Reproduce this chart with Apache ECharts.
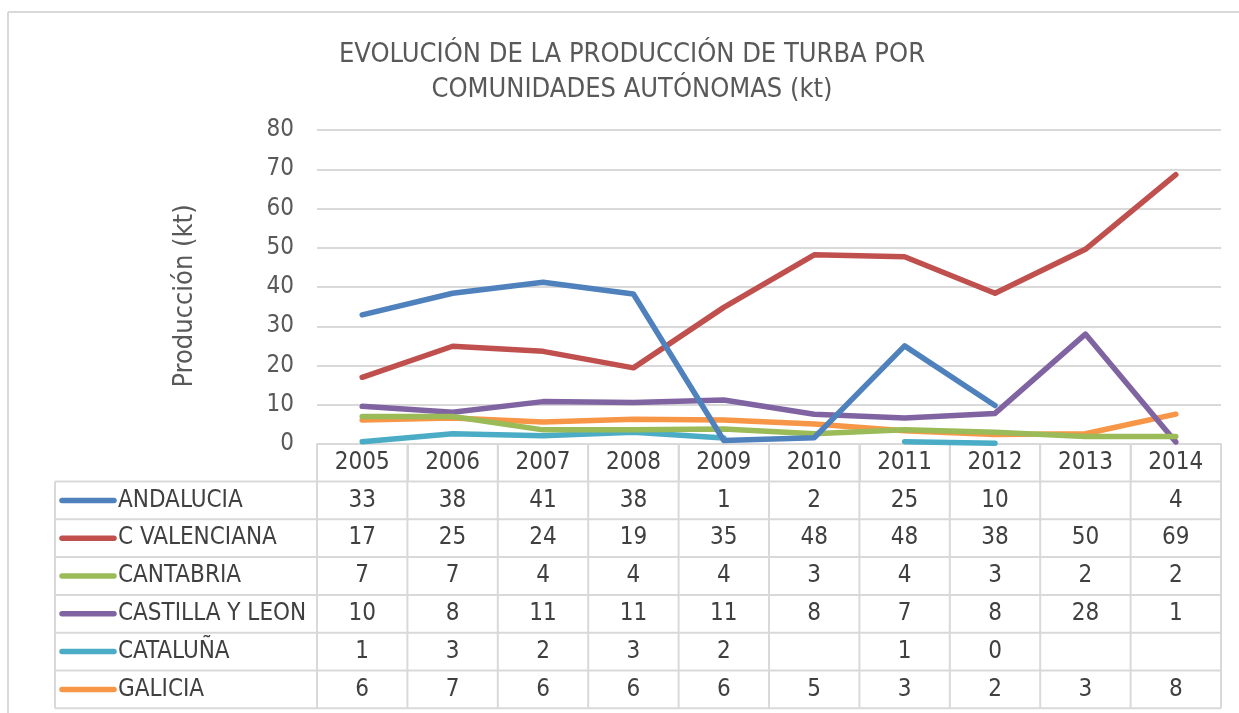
<!DOCTYPE html>
<html>
<head>
<meta charset="utf-8">
<script src="https://cdn.jsdelivr.net/npm/echarts@6/dist/echarts.min.js"></script>
<style>
html,body{margin:0;padding:0;background:#fff;}
#c{width:1239px;height:713px;}
</style>
</head>
<body>
<div id="c"></div>
<script>
var years = ['2005','2006','2007','2008','2009','2010','2011','2012','2013','2014'];
var andalucia = [32.9, 38.4, 41.2, 38.2, 0.9, 1.6, 25.0, 9.8, null, 4];
var cValenciana = [17.0, 24.9, 23.6, 19.4, 34.8, 48.2, 47.7, 38.4, 49.6, 68.6];
var cantabria = [7.0, 7.0, 3.6, 3.6, 3.8, 2.6, 3.6, 3.0, 1.9, 1.9];
var castillaLeon = [9.6, 8.1, 10.8, 10.6, 11.2, 7.6, 6.6, 7.8, 28.0, 0.5];
var cataluna = [0.6, 2.6, 2.1, 3.0, 1.5, null, 0.6, 0.2, null, null];
var galicia = [6.1, 6.6, 5.6, 6.3, 6.1, 5.1, 3.4, 2.4, 2.6, 7.6];
var seriesNames = ['ANDALUCIA','C VALENCIANA','CANTABRIA','CASTILLA Y LEON','CATALUÑA','GALICIA'];
var seriesData = [andalucia, cValenciana, cantabria, castillaLeon, cataluna, galicia];
var colors = ['#4F81BD','#C0504D','#9BBB59','#8064A2','#4BACC6','#F79646'];
var yTicks = [0,10,20,30,40,50,60,70,80];
var yAxisTitle = 'Producción (kt)';

var FONT = "'DejaVu Sans Condensed','DejaVu Sans',sans-serif";
var chart = echarts.init(document.getElementById('c'), null, {renderer:'canvas'});

var series = seriesNames.map(function(n,i){
  return {
    name:n, type:'line', data:seriesData[i], showSymbol:false, symbol:'none',
    connectNulls:false,
    lineStyle:{color:colors[i], width:5.5, cap:'round', join:'round'},
    itemStyle:{color:colors[i]}, z: 10 - i
  };
});

chart.setOption({
  animation:false,
  backgroundColor:'#ffffff',
  title:{
    text:'EVOLUCIÓN DE LA PRODUCCIÓN DE TURBA POR\nCOMUNIDADES AUTÓNOMAS (kt)',
    left:627, top:32, textAlign:'center',
    textStyle:{fontFamily:FONT, fontSize:27, fontWeight:'normal', color:'#595959', lineHeight:35}
  },
  grid:{left:317, right:18, top:130, bottom:269, containLabel:false},
  xAxis:{
    type:'category', data:years, boundaryGap:true,
    axisLine:{show:true, lineStyle:{color:'#d9d9d9', width:2}},
    axisTick:{show:true, length:37, lineStyle:{color:'#d9d9d9', width:2}},
    axisLabel:{show:true, margin:7, fontFamily:FONT, fontSize:24, color:'#404040'}
  },
  yAxis:{
    type:'value', min:0, max:80, interval:10,
    axisLine:{show:false}, axisTick:{show:false},
    axisLabel:{fontFamily:FONT, fontSize:24, color:'#595959', margin:23,
      formatter:function(v){ return yTicks.indexOf(v) >= 0 ? String(v) : ''; }},
    splitLine:{lineStyle:{color:'#d9d9d9', width:2}}
  },
  series:series
});

// Data table below the plot, positioned from the chart's own category axis
function buildTable(){
  var els = [];
  var x0 = chart.convertToPixel({xAxisIndex:0}, 0);
  var x1 = chart.convertToPixel({xAxisIndex:0}, 1);
  var colW = x1 - x0;
  var leftPlot = x0 - colW/2;
  var rightPlot = leftPlot + colW*years.length;
  var yZero = chart.convertToPixel({yAxisIndex:0}, 0);
  var yTop = chart.convertToPixel({yAxisIndex:0}, 80);
  var headerBottom = yZero + 37.5;
  var rowH = 37.8;
  var tableLeft = 55;
  var lc = '#d9d9d9';
  var TF = '24px ' + FONT;
  // y axis title
  els.push({type:'text', x:185, y:(yZero+yTop)/2 + 9, rotation:Math.PI/2,
    style:{text:yAxisTitle, font:'27px '+FONT, fill:'#595959', textAlign:'center', textVerticalAlign:'middle'}});
  // horizontal lines
  for (var k=0;k<=seriesNames.length;k++){
    var yy = headerBottom + k*rowH;
    els.push({type:'line', shape:{x1:tableLeft, y1:yy, x2:rightPlot, y2:yy}, style:{stroke:lc, lineWidth:2}});
  }
  var tableBottom = headerBottom + seriesNames.length*rowH;
  // vertical lines
  els.push({type:'line', shape:{x1:tableLeft, y1:headerBottom, x2:tableLeft, y2:tableBottom}, style:{stroke:lc, lineWidth:2}});
  for (var c=0;c<=years.length;c++){
    var xx = leftPlot + c*colW;
    els.push({type:'line', shape:{x1:xx, y1:yZero, x2:xx, y2:tableBottom}, style:{stroke:lc, lineWidth:2}});
  }
  // rows
  seriesNames.forEach(function(n,i){
    var cy = headerBottom + i*rowH + rowH/2;
    els.push({type:'line', shape:{x1:62, y1:cy, x2:114, y2:cy}, style:{stroke:colors[i], lineWidth:5.5, lineCap:'round'}});
    els.push({type:'text', x:118, y:cy, style:{text:n, font:TF, fill:'#404040', textVerticalAlign:'middle', textAlign:'left'}});
    seriesData[i].forEach(function(v,j){
      if (v === null || v === undefined) return;
      var cx = chart.convertToPixel({xAxisIndex:0}, j);
      els.push({type:'text', x:cx, y:cy, style:{text:String(Math.round(v)), font:TF, fill:'#404040', textAlign:'center', textVerticalAlign:'middle'}});
    });
  });
  // outer chart border
  els.push({type:'line', shape:{x1:8, y1:12, x2:1239, y2:12}, style:{stroke:lc, lineWidth:2}});
  els.push({type:'line', shape:{x1:8, y1:12, x2:8, y2:713}, style:{stroke:lc, lineWidth:2}});
  chart.setOption({graphic:{elements:els}});
}
buildTable();
</script>
</body>
</html>
